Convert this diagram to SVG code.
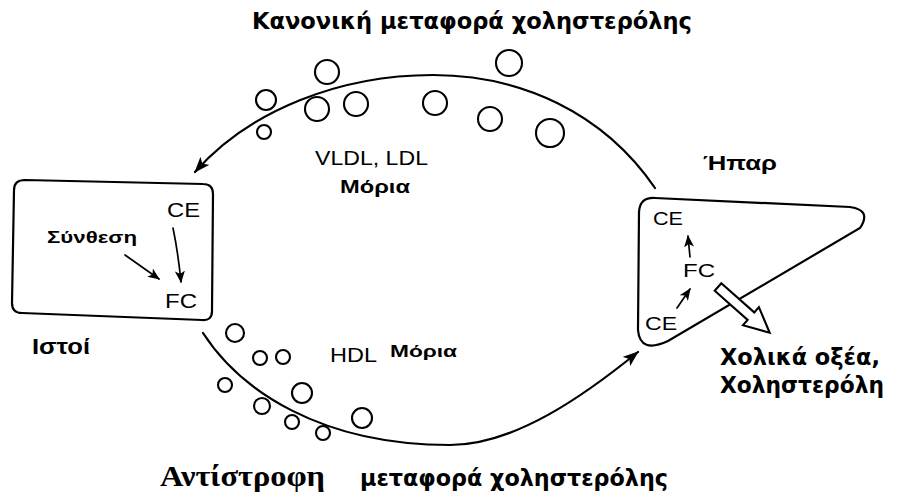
<svg xmlns="http://www.w3.org/2000/svg" width="897" height="499" viewBox="0 0 897 499">
  <defs>
    <style>
      .ln { fill: none; stroke: #000; stroke-width: 2.2; stroke-linecap: round; }
      .thin { fill: none; stroke: #000; stroke-width: 1.7; stroke-linecap: round; }
      .p { fill: #fff; stroke: #000; stroke-width: 2.1; }
      .sans { font-family: "Liberation Sans", Arial, sans-serif; fill: #000; }
      .hum { font-family: "DejaVu Sans", "Noto Sans", sans-serif; font-weight: bold; fill: #000; }
      .ser { font-family: "Liberation Serif", "Times New Roman", serif; fill: #000; }
      .b { font-weight: bold; }
    </style>
    <marker id="ah" viewBox="0 0 16 12" refX="15" refY="6" markerWidth="16" markerHeight="12" markerUnits="userSpaceOnUse" orient="auto">
      <path d="M0,0 L16,6 L0,12 L4,6 Z" fill="#000"/>
    </marker>
    <marker id="ahs" viewBox="0 0 12 10" refX="11" refY="5" markerWidth="12" markerHeight="10" markerUnits="userSpaceOnUse" orient="auto">
      <path d="M0,0 L12,5 L0,10 L3,5 Z" fill="#000"/>
    </marker>
  </defs>
  <rect width="897" height="499" fill="#fff"/>

  <!-- titles -->
  <text class="hum" x="252" y="29" font-size="23" textLength="440" lengthAdjust="spacingAndGlyphs">Κανονική μεταφορά χοληστερόλης</text>
  <text class="ser b" x="160" y="486" font-size="30" textLength="165" lengthAdjust="spacingAndGlyphs">Αντίστροφη</text>
  <text class="hum" x="360" y="486" font-size="23" textLength="308" lengthAdjust="spacingAndGlyphs">μεταφορά χοληστερόλης</text>

  <!-- tissue cell -->
  <g id="tissue">
    <path class="ln" d="M25,180 L203,184 Q213,184 213,194 L212,311 Q212,321 202,320 L22,313 Q12,313 12,303 L14,190 Q14,180 25,180 Z"/>
    <text class="sans" x="167" y="217" font-size="21" textLength="33" lengthAdjust="spacingAndGlyphs">CE</text>
    <text class="sans b" x="47" y="243" font-size="16" textLength="90" lengthAdjust="spacingAndGlyphs">Σύνθεση</text>
    <text class="sans" x="165" y="308" font-size="21" textLength="32" lengthAdjust="spacingAndGlyphs">FC</text>
    <path class="thin" d="M125,255 L159,279" marker-end="url(#ahs)"/>
    <path class="thin" d="M173,228 Q178,252 181,282" marker-end="url(#ahs)"/>
  </g>
  <text id="tissue-label" class="sans b" x="32" y="354" font-size="22" textLength="58" lengthAdjust="spacingAndGlyphs">Ιστοί</text>

  <!-- liver -->
  <g id="liver">
    <path class="ln" d="M655,198 L850,207 Q872,210 860,228 L668,341 Q640,354 638,330 L639,212 Q640,197 655,198 Z"/>
    <text class="sans" x="653" y="225" font-size="19" textLength="30" lengthAdjust="spacingAndGlyphs">CE</text>
    <text class="sans" x="683" y="277" font-size="19" textLength="32" lengthAdjust="spacingAndGlyphs">FC</text>
    <text class="sans" x="645" y="330" font-size="19" textLength="32" lengthAdjust="spacingAndGlyphs">CE</text>
    <path class="thin" d="M690,257 L688,236" marker-end="url(#ahs)"/>
    <path class="thin" d="M677,308 L690,289" marker-end="url(#ahs)"/>
    <!-- bile outflow arrow -->
    <polygon class="p" transform="translate(718,287) rotate(41.5)" points="0,-5 44,-5 44,-12 69,0 44,12 44,5 0,5"/>
  </g>
  <text id="liver-label" class="sans b" x="703" y="170" font-size="21" textLength="74" lengthAdjust="spacingAndGlyphs">Ήπαρ</text>
  <g id="bile">
    <text class="hum" x="720" y="365" font-size="23" textLength="160" lengthAdjust="spacingAndGlyphs">Χολικά οξέα,</text>
    <text class="hum" x="720" y="393" font-size="23" textLength="164" lengthAdjust="spacingAndGlyphs">Χοληστερόλη</text>
  </g>

  <!-- connectors -->
  <g id="connectors">
    <path class="ln" d="M655,188 C603,112 520,75 433,75 C340,75 250,110 195,172" marker-end="url(#ah)"/>
    <path class="ln" d="M203,333 C240,390 320,445 450,445 C515,445 585,395 638,352" marker-end="url(#ah)"/>
  </g>

  <!-- VLDL / LDL particles -->
  <g id="vldl-ldl" class="p">
    <circle cx="327" cy="72" r="12"/>
    <circle cx="266" cy="100" r="10"/>
    <circle cx="264" cy="132" r="7"/>
    <circle cx="317" cy="109" r="12"/>
    <circle cx="356" cy="104" r="12"/>
    <circle cx="435" cy="103" r="12"/>
    <circle cx="509" cy="63" r="13"/>
    <circle cx="490" cy="119" r="12"/>
    <circle cx="550" cy="133" r="14"/>
  </g>
  <g id="vldl-label">
    <text class="sans" x="315" y="165" font-size="21" textLength="113" lengthAdjust="spacingAndGlyphs">VLDL, LDL</text>
    <text class="sans b" x="340" y="193" font-size="18" textLength="70" lengthAdjust="spacingAndGlyphs">Μόρια</text>
  </g>

  <!-- HDL particles -->
  <g id="hdl" class="p">
    <circle cx="235" cy="333" r="9"/>
    <circle cx="260" cy="358" r="7"/>
    <circle cx="283" cy="357" r="7"/>
    <circle cx="225" cy="385" r="7"/>
    <circle cx="302" cy="393" r="10"/>
    <circle cx="262" cy="406" r="8"/>
    <circle cx="292" cy="422" r="7"/>
    <circle cx="323" cy="433" r="7"/>
    <circle cx="362" cy="418" r="10"/>
  </g>
  <g id="hdl-label">
    <text class="sans" x="330" y="362" font-size="20" textLength="47" lengthAdjust="spacingAndGlyphs">HDL</text>
    <text class="sans b" x="390" y="357" font-size="16" textLength="67" lengthAdjust="spacingAndGlyphs">Μόρια</text>
  </g>
</svg>
